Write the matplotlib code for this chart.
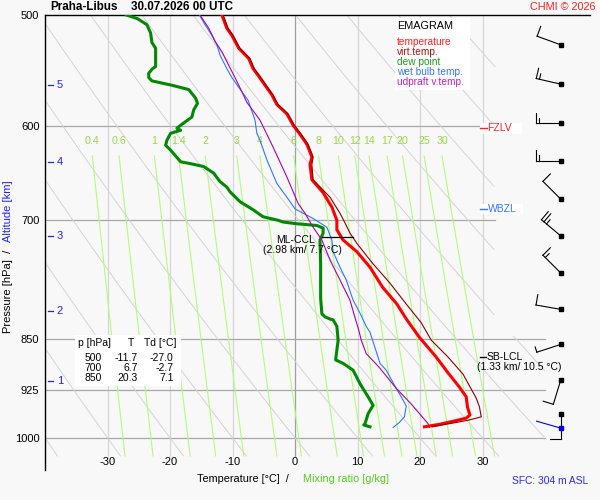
import numpy as np
import matplotlib
matplotlib.use('Agg')
import matplotlib.pyplot as plt
from matplotlib.ticker import NullLocator
from matplotlib.patches import Rectangle

plt.rcParams['font.family'] = ['Liberation Sans', 'DejaVu Sans']

## Sounding Praha-Libus, 30.07.2026 00 UTC

# temperature
temp_p = [500, 511, 517, 528, 537, 546, 552, 561, 570, 579, 588, 599, 608, 618,
          626, 631, 639, 655, 669, 685, 700, 711, 723, 737, 756, 781, 803, 824,
          848, 852, 876, 899, 920, 935, 951, 963, 968, 972, 978, 982]
temp_t = [-11.7, -10.9, -10.1, -9.0, -7.4, -6.7, -5.9, -4.8, -3.7, -2.9, -1.3, -0.3,
          0.8, 1.9, 2.4, 2.7, 2.4, 2.7, 4.5, 5.9, 6.7, 6.7, 7.7, 9.9, 12.0, 14.0,
          16.3, 17.9, 19.9, 20.3, 22.6, 24.5, 26.3, 27.4, 27.6, 28.0, 27.4, 25.8,
          23.1, 20.7]

# virtual temperature
tv_p = [500, 511, 517, 528, 537, 546, 552, 561, 570, 579, 588, 599, 608, 618,
        626, 631, 639, 655, 674, 692, 703, 715, 727, 751, 776, 803, 828, 852,
        876, 901, 937, 950, 966, 971, 975, 979, 982]
tv_t = [-11.5, -10.7, -9.9, -8.8, -7.2, -6.5, -5.7, -4.6, -3.5, -2.7, -1.1, -0.1,
        1.0, 2.1, 2.6, 2.9, 2.7, 2.9, 5.6, 7.2, 8.0, 8.8, 9.9, 12.4, 15.2, 17.8,
        20.2, 21.8, 24.5, 26.9, 29.0, 29.5, 29.8, 27.9, 25.8, 23.6, 22.0]

# dew point
td_p = [500, 503, 508, 515, 523, 528, 544, 546, 550, 554, 557, 561, 565, 573,
        578, 584, 591, 599, 602, 604, 607, 614, 619, 624, 636, 638, 641, 648,
        657, 663, 668, 679, 688, 696, 700, 702, 704, 706, 709, 715, 723, 752,
        795, 816, 820, 823, 824, 833, 852, 880, 885, 895, 915, 935, 948, 961,
        977, 979, 982]
td_t = [-27.0, -25.2, -23.7, -23.1, -22.9, -22.3, -22.3, -22.8, -23.4, -23.4, -22.9,
        -19.7, -17.0, -15.9, -15.6, -16.2, -16.5, -18.3, -18.9, -18.3, -19.9, -20.5,
        -20.7, -19.9, -18.3, -16.7, -14.6, -13.0, -12.0, -10.9, -10.4, -8.8, -6.7,
        -5.1, -2.7, -1.9, 0.3, 3.5, 4.5, 4.5, 4.0, 4.1, 4.1, 4.3, 4.8, 5.6, 6.1,
        6.7, 6.9, 6.5, 7.7, 9.3, 10.4, 11.7, 12.5, 11.7, 11.2, 11.0, 12.0]

# wet bulb temperature
wb_p = [500, 508, 517, 525, 534, 546, 554, 563, 571, 575, 594, 607, 614, 634,
        659, 674, 687, 698, 708, 723, 737, 756, 772, 798, 815, 833, 841, 868,
        885, 895, 922, 940, 949, 966, 975, 979, 983]
wb_t = [-15.3, -14.4, -13.3, -12.5, -12.0, -10.9, -10.1, -9.0, -8.0, -7.5, -6.4,
        -6.1, -5.6, -4.5, -2.9, -1.3, 0.0, 2.9, 5.1, 5.9, 6.1, 7.2, 8.2, 9.3, 10.4,
        11.4, 12.0, 13.0, 13.6, 14.6, 16.2, 17.3, 17.8, 17.5, 16.7, 16.2, 15.7]

# updraft virtual temperature (surface parcel)
pc_p = [500, 511, 522, 531, 543, 554, 567, 577, 594, 621, 652, 681, 692, 708,
        723, 747, 772, 798, 824, 838, 852, 871, 890, 922, 946, 977, 983]
pc_t = [-15.2, -13.8, -12.8, -11.7, -10.6, -9.6, -8.5, -7.7, -5.6, -3.5, -1.3, 0.5,
        1.6, 2.9, 4.3, 5.6, 7.2, 8.8, 9.7, 10.2, 10.6, 11.4, 13.4, 16.2, 18.6,
        21.3, 21.5]

# wind (hPa, direction deg, speed kt)
wind_p = [525, 560, 597, 635, 676, 718, 763, 810, 858, 910, 962]
wind_dir = [290, 283, 270, 270, 315, 310, 315, 280, 252, 197, 180]
wind_kt = [10, 15, 15, 15, 10, 25, 15, 10, 5, 10, 10]
sfc_wind_p = 984
sfc_wind_dir = 286

# altitude marks
alt_km = [1, 2, 3, 4, 5]
alt_p = [911, 812, 718, 636, 561]

# levels
fzlv_p = 602
wbzl_p = 687
sblcl_p = 876
mlccl_p = 720
mlccl_t = [4.3, 9.3]

# table
table_p = [500, 700, 850]
table_t = [-11.7, 6.7, 20.3]
table_td = [-27.0, -2.7, 7.1]

# background
isotherms = [-30, -20, -10, 0, 10, 20, 30]
isobars = [600, 700, 850, 925, 1000]
adiabats = list(range(-70, 110, 10))   # T at 1000 hPa
mix_ratios = [0.4, 0.6, 1, 1.4, 2, 3, 4, 6, 8, 10, 12, 14, 17, 20, 25, 30]

bg = '#f8f8f8'
fig = plt.figure(figsize=(6, 5), dpi=100, facecolor=bg)
ax = fig.add_axes([45/600, 30/500, 545/600, 455/500])
ax.set_facecolor(bg)
ax.set_yscale('log')
ax.set_xlim(-40, 47.2)
ax.set_ylim(1054, 500)
for s in ['right', 'bottom']:
    ax.spines[s].set_visible(False)
for s in ['left', 'top']:
    ax.spines[s].set_linewidth(1.0)
ax.set_xticks([])
ax.set_yticks(isobars[:0] + [500] + isobars)
ax.set_yticklabels(['500'] + [str(p) for p in isobars])
ax.yaxis.set_minor_locator(NullLocator())
ax.tick_params(axis='y', length=0, pad=4, labelsize=8)

p_bot = 1030

# isotherms
for t in isotherms:
    c = '#a0a0a0' if t == 0 else '#d6d6d6'
    ax.plot([t, t], [500, p_bot], color=c, lw=0.9, zorder=1)
# isobars
for p in isobars:
    right = 40 if p >= 845 else 32
    ax.plot([-40, right], [p, p], color='#a8a8a8', lw=0.9, zorder=1)

# dry adiabats
pg = np.geomspace(500, p_bot, 300)
lim = np.where(pg >= 845, 40, 32)
for th in adiabats:
    t = (th + 273.15) * (pg / 1000.0) ** 0.286 - 273.15
    t = np.where(t <= lim, t, np.nan)
    ax.plot(t, pg, color='#d4d4d4', lw=0.7, zorder=1)

# mixing ratio lines
pm = np.geomspace(630, p_bot, 60)
for w in mix_ratios:
    e = w * pm / (622.0 + w)
    a = np.log(e / 6.112)
    td = 243.5 * a / (17.67 - a)
    ax.plot(td, pm, color='#b0ff78', lw=0.8, zorder=2)
    ax.text(td[0], 615, f'{w:g}', color='#9ad84a', fontsize=7.7,
            ha='center', va='center', zorder=3)

# temperature tick labels inside the plot
for t in isotherms:
    ax.text(t, 1041, str(t), ha='center', va='center', fontsize=8, zorder=3)

# profiles
ax.plot(td_t, td_p, color='#008800', lw=2.2, zorder=5, solid_joinstyle='round')
ax.plot(wb_t, wb_p, color='#2f78ff', lw=0.8, zorder=5)
ax.plot(pc_t, pc_p, color='#aa00aa', lw=0.8, zorder=5)
ax.plot(temp_t, temp_p, color='#ff0000', lw=2.2, zorder=6, solid_joinstyle='round')
ax.plot(tv_t, tv_p, color='#8b0000', lw=0.8, zorder=7)

# ML-CCL
ax.plot(mlccl_t, [mlccl_p, mlccl_p], color='black', lw=0.9, zorder=8)

# altitude marks
for km, p in zip(alt_km, alt_p):
    ax.plot([-39.5, -38.7], [p, p], color='#2222ff', lw=0.9, zorder=4)
    ax.text(-38.1, p, str(km), color='#2222ff', fontsize=8, va='center', zorder=4)

# overlay in pixel coordinates
ov = fig.add_axes([0, 0, 1, 1], facecolor='none')
ov.set_xlim(0, 600)
ov.set_ylim(500, 0)
ov.axis('off')


def to_px(t, p):
    x, y = ax.transData.transform((t, p))
    return x, 500 - y


# wind barbs
def barb(p, d, spd, color='black'):
    sx, sy = to_px(42.5, p)
    r = np.radians(d)
    ux, uy = np.sin(r), -np.cos(r)
    nx, ny = np.cos(r), np.sin(r)
    ex, ey = sx + 25 * ux, sy + 25 * uy
    ov.plot([sx, ex], [sy, ey], color=color, lw=0.8)
    n_full = spd // 10
    half = spd % 10 >= 5
    k = 0
    for i in range(n_full):
        bx, by = ex - k * 3.3 * ux, ey - k * 3.3 * uy
        ov.plot([bx, bx + 10.5 * nx], [by, by + 10.5 * ny], color=color, lw=0.8)
        k += 1
    if half:
        bx, by = ex - k * 3.3 * ux, ey - k * 3.3 * uy
        ov.plot([bx, bx + 5.5 * nx], [by, by + 5.5 * ny], color=color, lw=0.8)
    ov.plot(sx, sy, 's', ms=2.3, color=color)


for p, d, s in zip(wind_p, wind_dir, wind_kt):
    barb(p, d, s)
barb(sfc_wind_p, sfc_wind_dir, 0, color='#0000ee')

# title etc.
ov.text(50, 7.5, 'Praha-Libus', fontweight='bold', fontsize=8.4, va='center')
ov.text(131, 7.5, '30.07.2026 00 UTC', fontweight='bold', fontsize=8.4, va='center')
ov.text(596, 7, 'CHMI © 2026', color='#ee2222', fontsize=7.8, ha='right', va='center')

# legend
ov.add_patch(Rectangle((395, 18), 75, 72, fc='white', ec='none'))
ov.text(397, 26, 'EMAGRAM', fontsize=7.8, va='center')
leg = [('temperature', '#ff2222'), ('virt.temp.', '#aa1111'), ('dew point', '#229922'),
       ('wet bulb temp.', '#3377ff'), ('udpraft v.temp.', '#bb22bb')]
for i, (name, c) in enumerate(leg):
    ov.text(397, 42 + 10 * i, name, color=c, fontsize=7.3, va='center')

# table
ov.add_patch(Rectangle((75, 335), 106, 51, fc='white', ec='none'))
ov.text(78, 343, 'p [hPa]', fontsize=7.5, va='center')
ov.text(127.5, 343, 'T', fontsize=7.5, va='center')
ov.text(144, 343, 'Td [°C]', fontsize=7.5, va='center')
for i in range(len(table_p)):
    y = 358.3 + 10 * i
    ov.text(102, y, str(table_p[i]), fontsize=7.5, va='center', ha='right')
    ov.text(137.5, y, f'{table_t[i]:.1f}', fontsize=7.5, va='center', ha='right')
    ov.text(173.5, y, f'{table_td[i]:.1f}', fontsize=7.5, va='center', ha='right')

# level labels
_, yf = to_px(0, fzlv_p)
ov.add_patch(Rectangle((480, yf - 5), 42, 10.5, fc='white', ec='none'))
ov.plot([480, 486.5], [yf, yf], color='#ff2222', lw=1)
ov.text(487.5, yf, 'FZLV', color='#ff2222', fontsize=7.5, va='center')

_, yw = to_px(0, wbzl_p)
ov.add_patch(Rectangle((480, yw - 5), 43, 10.5, fc='white', ec='none'))
ov.plot([480, 486.5], [yw, yw], color='#3377ff', lw=1)
ov.text(487.5, yw, 'WBZL', color='#3377ff', fontsize=7.5, va='center')

_, yl = to_px(0, sblcl_p)
ov.plot([480, 485.5], [yl, yl], color='black', lw=1)
ov.text(486.5, yl, 'SB-LCL', fontsize=7.5, va='center')
ov.text(477, yl + 10.3, '(1.33 km/ 10.5 °C)', fontsize=7.5, va='center')

_, yc = to_px(0, mlccl_p)
ov.text(295.5, yc + 3, 'ML-CCL', fontsize=7.5, va='center', ha='center')
ov.text(302.5, yc + 13, '(2.98 km/ 7.7 °C)', fontsize=7.5, va='center', ha='center')

# axis titles
ov.text(197, 479, 'Temperature [°C]  /', fontsize=7.8, va='center')
ov.text(303, 479, 'Mixing ratio [g/kg]', color='#55cc22', fontsize=7.8, va='center')
ov.text(512, 480.5, 'SFC: 304 m ASL', color='#2a2aff', fontsize=7.4, va='center')
ov.text(8.5, 333, 'Pressure [hPa]  /', fontsize=8, rotation=90, ha='center', va='bottom')
ov.text(8.5, 242, 'Altitude [km]', color='#2222ff', fontsize=8, rotation=90,
        ha='center', va='bottom')

fig.savefig('out.png', dpi=100, facecolor=bg)
